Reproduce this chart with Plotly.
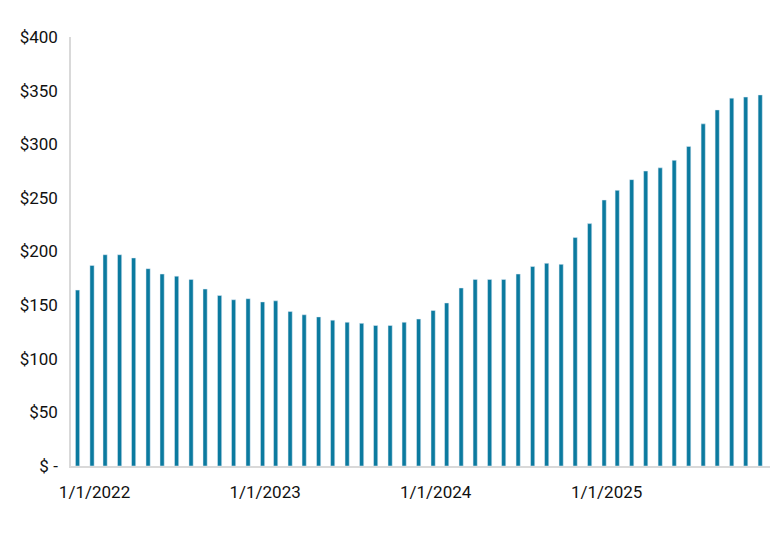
import plotly.graph_objects as go
import pandas as pd

dates = pd.date_range("2022-01-01", periods=49, freq="MS")
values = [164,187,197,197,194,184,179,177,174,165,
          159,155,156,153,154,144,141,139,136,134,
          133,131,131,134,137,145,152,166,174,174,
          174,179,186,189,188,213,226,248,257,267,
          275,278,285,298,319,332,343,344,346]
tick_dates = ["2022-01-01","2023-01-01","2024-01-01","2025-01-01"]
tick_text = ["1/1/2022","1/1/2023","1/1/2024","1/1/2025"]
y_ticks = [0,50,100,150,200,250,300,350,400]
y_text = ["$ -","$50","$100","$150","$200","$250","$300","$350","$400"]

fig = go.Figure(go.Bar(x=dates, y=values, marker_color="#0b7a9f", width=86400000*9))
fig.update_layout(
    width=780, height=541, plot_bgcolor="white", paper_bgcolor="white",
    margin=dict(l=61, r=18, t=29, b=83), showlegend=False,
    font=dict(family="Roboto", size=17, color="#111"),
)
fig.update_xaxes(tickvals=tick_dates, ticktext=tick_text, showgrid=False,
                 showline=True, linecolor="#d9d9d9", linewidth=1.5, ticks="",
                 range=["2021-12-18","2026-01-22"], ticklabelshift=17, ticklabelstandoff=10)
fig.update_yaxes(tickvals=y_ticks, ticktext=y_text, range=[0,400], showgrid=False,
                 showline=True, linecolor="#d9d9d9", linewidth=1.5, ticks="", ticklabelstandoff=8)
fig.write_html("out.html")
